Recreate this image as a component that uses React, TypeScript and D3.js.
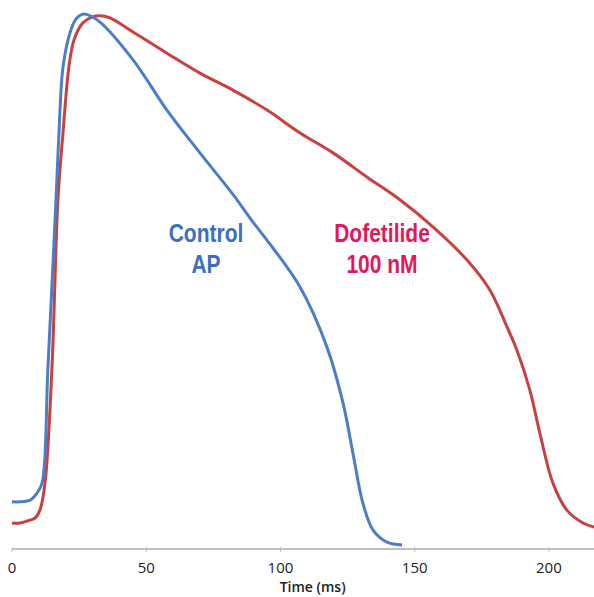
import React from "react";
import * as d3 from "d3";

// time (ms) and membrane potential (mV)
const controlTime = [0, 3, 6.7, 9.3, 11.2, 13.4, 16.4, 17.5, 19, 21.6, 23.8, 26.4, 29.1, 32.8, 45.1, 57.7, 70, 82.3, 89, 97.2, 107.3, 117.3, 123.3, 127, 130.7, 134.5, 139.7, 145.3];
const controlVm = [-79.6, -79.6, -79.2, -77.5, -75.1, -47.1, -6.9, 9.2, 25.1, 33.3, 36.6, 37.8, 37.4, 35.9, 26.8, 14.7, 4.4, -5.6, -11.6, -18.5, -27.9, -42.3, -55.8, -67.9, -79.9, -86.4, -89.3, -90];

const dofTime = [0, 3, 6.7, 8.6, 10.4, 12.3, 14.9, 17.1, 19, 21.2, 23.1, 26.4, 29.8, 32.8, 36.5, 45.1, 57.7, 70, 82.3, 95, 107.3, 119.6, 132.2, 144.5, 156.8, 169.5, 178, 184.4, 188.1, 192.9, 196.6, 201.5, 206.7, 212.7, 216.8];
const dofVm = [-84.7, -84.7, -84, -83.5, -81.6, -75.1, -47.1, -6.9, 9.2, 25.1, 31.6, 35.7, 37.1, 37.4, 36.9, 33.5, 28.4, 23.6, 19.5, 14.7, 9.2, 4.4, -1.4, -6.9, -13.4, -21.4, -28.6, -37.5, -43.1, -52.7, -63, -75.1, -81.6, -84.7, -85.7];

const xTicks = [0, 50, 100, 150, 200];
const xTitle = "Time (ms)";
const controlLabel = ["Control", "AP"];
const dofLabel = ["Dofetilide", "100 nM"];

const W = 594;
const H = 597;

export default function App() {
  const x = d3.scaleLinear().domain([0, 216.8]).range([12, 594]);
  const y = d3.scaleLinear().domain([-90, 40]).range([545, 5]);

  const line = d3
    .line<[number, number]>()
    .x((d) => x(d[0]))
    .y((d) => y(d[1]))
    .curve(d3.curveCatmullRom.alpha(0.5));

  const controlPts = controlTime.map((t, i) => [t, controlVm[i]] as [number, number]);
  const dofPts = dofTime.map((t, i) => [t, dofVm[i]] as [number, number]);

  const axisY = 549;
  const labelFont = "'Liberation Sans', Arial, sans-serif";
  const tickFont = "'Open Sans', 'Noto Sans', sans-serif";

  return (
    <svg
      width={W}
      height={H}
      style={{ position: "absolute", left: 0, top: 0, background: "#fff" }}
    >
      {/* x axis */}
      <line x1={x(0)} x2={W} y1={axisY} y2={axisY} stroke="#c0c0c0" strokeWidth={2} />
      {xTicks.map((t) => (
        <g key={t} transform={`translate(${x(t)},0)`}>
          <line y1={axisY - 2} y2={axisY + 3} stroke="#c0c0c0" strokeWidth={1} />
          <text
            y={573}
            textAnchor="middle"
            fontFamily={tickFont}
            fontSize={15}
            fill="#222"
          >
            {t}
          </text>
        </g>
      ))}
      <text
        x={x(112)}
        y={592}
        textAnchor="middle"
        fontFamily={tickFont}
        fontSize={14}
        fontWeight={600}
        fill="#222"
      >
        {xTitle}
      </text>

      {/* traces */}
      <path d={line(dofPts) || ""} fill="none" stroke="#c9413e" strokeWidth={3} />
      <path d={line(controlPts) || ""} fill="none" stroke="#4a7ec6" strokeWidth={3} />

      {/* labels */}
      <g transform="translate(206,242) scale(1,1.2)">
        {controlLabel.map((s, i) => (
          <text
            key={s}
            y={i * 26}
            textAnchor="middle"
            fontFamily={labelFont}
            fontWeight="bold"
            fontSize={21}
            fill="#3b70c0"
          >
            {s}
          </text>
        ))}
      </g>
      <g transform="translate(382,242) scale(1,1.2)">
        {dofLabel.map((s, i) => (
          <text
            key={s}
            y={i * 26}
            textAnchor="middle"
            fontFamily={labelFont}
            fontWeight="bold"
            fontSize={21}
            fill="#e2185a"
          >
            {s}
          </text>
        ))}
      </g>
    </svg>
  );
}
